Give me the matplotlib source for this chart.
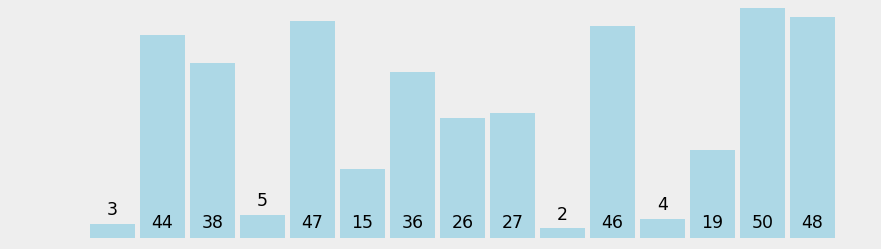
import matplotlib.pyplot as plt

values = [3, 44, 38, 5, 47, 15, 36, 26, 27, 2, 46, 4, 19, 50, 48]
labels = [str(v) for v in values]

bg = '#eeeeee'
bar_color = '#add8e6'

fig = plt.figure(figsize=(8.81, 2.49), dpi=100, facecolor=bg)
ax = fig.add_axes([0, 0, 1, 1])
ax.set_facecolor(bg)

x = list(range(len(values)))
ax.bar(x, values, width=0.9, color=bar_color)

# labels: inside at the bottom for tall bars, above for short ones
for xi, v, lab in zip(x, values, labels):
    if v >= 10:
        ax.text(xi, 3.3, lab, ha='center', va='center', fontsize=12.5, color='black')
    else:
        ax.text(xi, v + 3.0, lab, ha='center', va='center', fontsize=12.5, color='black')

ax.set_xlim(-2.25, 15.37)
ax.set_ylim(-2.46, 51.67)
ax.axis('off')

fig.savefig('out.png', dpi=100, facecolor=bg)
